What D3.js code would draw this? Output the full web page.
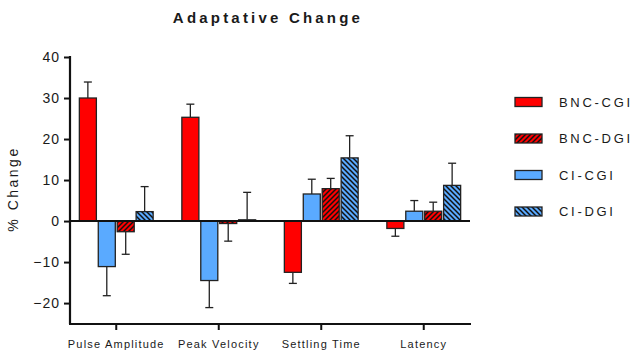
<!DOCTYPE html>
<html><head><meta charset="utf-8">
<script src="https://cdn.jsdelivr.net/npm/d3@7"></script>
<style>body{margin:0;background:#fff;} text{font-family:"Liberation Sans",Arial,sans-serif;fill:#1a1a1a;}</style>
</head><body><svg id="c" width="636" height="352"></svg>
<script>
const categories = ["Pulse Amplitude","Peak Velocity","Settling Time","Latency"];
const seriesNames = ["BNC-CGI","CI-CGI","BNC-DGI","CI-DGI"];
const legendOrder = ["BNC-CGI","BNC-DGI","CI-CGI","CI-DGI"];
const bncCgi = [30, 25.3, -12.5, -1.8];
const bncCgiErr = [3.9, 3.2, 2.7, 1.9];
const ciCgi = [-11.1, -14.5, 6.6, 2.4];
const ciCgiErr = [7.1, 6.6, 3.6, 2.6];
const bncDgi = [-2.6, -0.6, 7.9, 2.4];
const bncDgiErr = [5.5, 4.3, 2.5, 2.2];
const ciDgi = [2.3, 0.3, 15.4, 8.7];
const ciDgiErr = [6.1, 6.7, 5.4, 5.4];
const yTicks = [-20,-10,0,10,20,30,40];

const values = {"BNC-CGI":bncCgi,"CI-CGI":ciCgi,"BNC-DGI":bncDgi,"CI-DGI":ciDgi};
const errs = {"BNC-CGI":bncCgiErr,"CI-CGI":ciCgiErr,"BNC-DGI":bncDgiErr,"CI-DGI":ciDgiErr};
const fills = {"BNC-CGI":"#ff0000","CI-CGI":"#5aaaff","BNC-DGI":"url(#hatchR)","CI-DGI":"url(#hatchB)"};

const svg = d3.select("#c");
const defs = svg.append("defs");
function hatch(id, color, dir){
  const p = defs.append("pattern").attr("id",id).attr("patternUnits","userSpaceOnUse")
    .attr("width",5).attr("height",5);
  p.append("rect").attr("width",5).attr("height",5).attr("fill",color);
  if(dir>0){
    p.append("path").attr("d","M-1,1 l2,-2 M0,5 l5,-5 M4,6 l2,-2").attr("stroke","#111").attr("stroke-width",1.5);
  } else {
    p.append("path").attr("d","M-1,4 l2,2 M0,0 l5,5 M4,-1 l2,2").attr("stroke","#111").attr("stroke-width",1.5);
  }
}
hatch("hatchR","#ff0000",1);
hatch("hatchB","#5aaaff",-1);

const y = d3.scaleLinear().domain([-25.1,40]).range([324,57]);
const x0 = d3.scaleBand().domain(categories).range([65,475]).paddingInner(0.28).paddingOuter(0.14);
const x1 = d3.scaleBand().domain(seriesNames).range([0,x0.bandwidth()]).paddingInner(0.1);

// bars
const g = svg.append("g");
categories.forEach((c,i)=>{
  seriesNames.forEach(s=>{
    const v = values[s][i], e = errs[s][i];
    const bx = x0(c)+x1(s), bw = x1.bandwidth();
    const cx = bx + bw/2;
    const tip = v + (v>=0?e:-e);
    g.append("line").attr("x1",cx).attr("x2",cx).attr("y1",y(v)).attr("y2",y(tip)).attr("stroke","#222").attr("stroke-width",1.3);
    g.append("line").attr("x1",cx-4).attr("x2",cx+4).attr("y1",y(tip)).attr("y2",y(tip)).attr("stroke","#222").attr("stroke-width",1.3);
    g.append("rect").attr("x",bx).attr("width",bw)
      .attr("y",Math.min(y(v),y(0))).attr("height",Math.max(Math.abs(y(v)-y(0)),1))
      .attr("fill",fills[s]).attr("stroke","#222").attr("stroke-width",1.3);
  });
});

// zero line
svg.append("line").attr("x1",70).attr("x2",470).attr("y1",y(0)).attr("y2",y(0)).attr("stroke","#111").attr("stroke-width",2);

// y axis
const ya = svg.append("g").attr("transform","translate(70,0)")
  .call(d3.axisLeft(y).tickValues(yTicks).tickSize(6).tickPadding(4).tickSizeOuter(0));
ya.select(".domain").attr("stroke","#111").attr("stroke-width",2.2).attr("d","M0,56V324");
ya.selectAll(".tick line").attr("stroke","#111").attr("stroke-width",2);
ya.selectAll(".tick text").attr("font-size",14).attr("letter-spacing",1).style("font-family","Liberation Sans, Arial");

// x axis
const xa = svg.append("g").attr("transform","translate(0,324)")
  .call(d3.axisBottom(x0).tickSize(6).tickPadding(10).tickSizeOuter(0));
xa.select(".domain").attr("stroke","#111").attr("stroke-width",2.2).attr("d","M69,0H471");
xa.selectAll(".tick line").attr("stroke","#111").attr("stroke-width",2);
xa.selectAll(".tick text").attr("font-size",11).attr("letter-spacing",1.2).style("font-family","Liberation Sans, Arial");

// title
svg.append("text").attr("x",268).attr("y",23).attr("text-anchor","middle")
  .attr("font-size",15).attr("font-weight","bold").attr("letter-spacing",3.2).text("Adaptative Change");

// y label
svg.append("text").attr("transform","translate(18,189) rotate(-90)").attr("text-anchor","middle")
  .attr("font-size",14).attr("letter-spacing",2.5).text("% Change");

// legend
const lg = svg.append("g");
legendOrder.forEach((s,i)=>{
  const ly = 102 + i*36.5;
  lg.append("rect").attr("x",515).attr("y",ly-4.5).attr("width",27).attr("height",9)
    .attr("fill",fills[s]).attr("stroke","#222").attr("stroke-width",1.3);
  lg.append("text").attr("x",559).attr("y",ly+4.5).attr("font-size",13).attr("letter-spacing",2.7).text(s);
});
</script></body></html>
